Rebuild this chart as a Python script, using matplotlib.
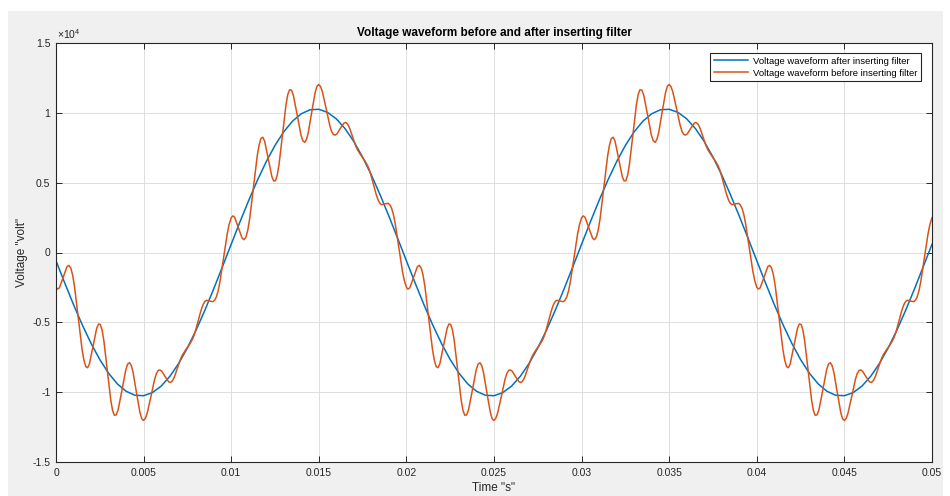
import numpy as np
import matplotlib
matplotlib.use("Agg")
from matplotlib import pyplot as plt
from matplotlib.patches import Rectangle

plt.rcParams["font.family"] = ["Liberation Sans", "DejaVu Sans"]
plt.rcParams["mathtext.fontset"] = "custom"
plt.rcParams["mathtext.rm"] = "Liberation Sans"

TITLE = "Voltage waveform before and after inserting filter"
LABEL_AFTER = "Voltage waveform after inserting filter"
LABEL_BEFORE = "Voltage waveform before inserting filter"

# filtered waveform, sampled every 0.5 ms from 0 to 0.05 s
after_v = [
    -592, -2188, -3731, -5181, -6505, -7668, -8642, -9404, -9934, -10220,
    -10253, -10034, -9569, -8867, -7947, -6832, -5548, -4128, -2607, -1020,
    592, 2188, 3731, 5181, 6505, 7668, 8642, 9404, 9934, 10220,
    10253, 10034, 9569, 8867, 7947, 6832, 5548, 4128, 2607, 1020,
    -592, -2188, -3731, -5181, -6505, -7668, -8642, -9404, -9934, -10220,
    -10253, -10034, -9569, -8867, -7947, -6832, -5548, -4128, -2607, -1020,
    592, 2188, 3731, 5181, 6505, 7668, 8642, 9404, 9934, 10220,
    10253, 10034, 9569, 8867, 7947, 6832, 5548, 4128, 2607, 1020,
    -592, -2188, -3731, -5181, -6505, -7668, -8642, -9404, -9934, -10220,
    -10253, -10034, -9569, -8867, -7947, -6832, -5548, -4128, -2607, -1020,
    592,
]
after_t = np.linspace(0, 0.05, len(after_v))

# sample times inside one 10 ms half cycle (ripple peaks and points between them)
half_t = [
    0.0, 0.0000875, 0.000195, 0.00041, 0.000625, 0.0007325, 0.00084, 0.0009475,
    0.001055, 0.00127, 0.001485, 0.0015925, 0.0017, 0.00180375, 0.0019075, 0.002115,
    0.0023225, 0.00242625, 0.00253, 0.00263, 0.00273, 0.00293, 0.00313, 0.00323,
    0.00333, 0.00343875, 0.0035475, 0.003765, 0.0039825, 0.00409125, 0.0042, 0.00429875,
    0.0043975, 0.004595, 0.0047925, 0.00489125, 0.00499, 0.00509625, 0.0052025, 0.005415,
    0.0056275, 0.00573375, 0.00584, 0.00593875, 0.0060375, 0.006235, 0.0064325, 0.00653125,
    0.00663, 0.00670375, 0.0067775, 0.006925, 0.0070725, 0.00714625, 0.00722, 0.007365,
    0.00751, 0.007655, 0.0078, 0.007875, 0.00795, 0.0081, 0.00825, 0.008325,
    0.0084, 0.00849375, 0.0085875, 0.008775, 0.0089625, 0.00905625, 0.00915, 0.00925375,
    0.0093575, 0.009565, 0.0097725, 0.00987625, 0.00998,
]
before_t = np.concatenate([np.array(half_t) + k * 0.01 for k in range(5)] + [[0.05]])

# unfiltered waveform, one row block per half cycle
before_v = [
    -2490, -2620, -2530, -1780, -1020, -920, -1100, -1600, -2420, -4670,
    -6910, -7700, -8170, -8250, -7980, -6720, -5430, -5120, -5150, -5550,
    -6300, -8470, -10600, -11310, -11650, -11630, -11260, -9860, -8410, -7990,
    -7890, -8100, -8570, -10040, -11460, -11890, -12030, -11890, -11520, -10330,
    -9090, -8660, -8440, -8410, -8500, -8900, -9260, -9310, -9210, -9050,
    -8840, -8300, -7750, -7520, -7330, -7040, -6780, -6510, -6180, -5950,
    -5670, -4970, -4270, -3970, -3720, -3510, -3420, -3480, -3520, -3410,
    -3190, -2750, -2100, -390, 1330, 1980, 2430,

    2490, 2620, 2530, 1780, 1020, 920, 1100, 1600, 2420, 4670,
    6910, 7700, 8170, 8250, 7980, 6720, 5430, 5120, 5150, 5550,
    6300, 8470, 10600, 11310, 11650, 11630, 11260, 9860, 8410, 7990,
    7890, 8100, 8570, 10040, 11460, 11890, 12030, 11890, 11520, 10330,
    9090, 8660, 8440, 8410, 8500, 8900, 9260, 9310, 9210, 9050,
    8840, 8300, 7750, 7520, 7330, 7040, 6780, 6510, 6180, 5950,
    5670, 4970, 4270, 3970, 3720, 3510, 3420, 3480, 3520, 3410,
    3190, 2750, 2100, 390, -1330, -1980, -2430,

    -2490, -2620, -2530, -1780, -1020, -920, -1100, -1600, -2420, -4670,
    -6910, -7700, -8170, -8250, -7980, -6720, -5430, -5120, -5150, -5550,
    -6300, -8470, -10600, -11310, -11650, -11630, -11260, -9860, -8410, -7990,
    -7890, -8100, -8570, -10040, -11460, -11890, -12030, -11890, -11520, -10330,
    -9090, -8660, -8440, -8410, -8500, -8900, -9260, -9310, -9210, -9050,
    -8840, -8300, -7750, -7520, -7330, -7040, -6780, -6510, -6180, -5950,
    -5670, -4970, -4270, -3970, -3720, -3510, -3420, -3480, -3520, -3410,
    -3190, -2750, -2100, -390, 1330, 1980, 2430,

    2490, 2620, 2530, 1780, 1020, 920, 1100, 1600, 2420, 4670,
    6910, 7700, 8170, 8250, 7980, 6720, 5430, 5120, 5150, 5550,
    6300, 8470, 10600, 11310, 11650, 11630, 11260, 9860, 8410, 7990,
    7890, 8100, 8570, 10040, 11460, 11890, 12030, 11890, 11520, 10330,
    9090, 8660, 8440, 8410, 8500, 8900, 9260, 9310, 9210, 9050,
    8840, 8300, 7750, 7520, 7330, 7040, 6780, 6510, 6180, 5950,
    5670, 4970, 4270, 3970, 3720, 3510, 3420, 3480, 3520, 3410,
    3190, 2750, 2100, 390, -1330, -1980, -2430,

    -2490, -2620, -2530, -1780, -1020, -920, -1100, -1600, -2420, -4670,
    -6910, -7700, -8170, -8250, -7980, -6720, -5430, -5120, -5150, -5550,
    -6300, -8470, -10600, -11310, -11650, -11630, -11260, -9860, -8410, -7990,
    -7890, -8100, -8570, -10040, -11460, -11890, -12030, -11890, -11520, -10330,
    -9090, -8660, -8440, -8410, -8500, -8900, -9260, -9310, -9210, -9050,
    -8840, -8300, -7750, -7520, -7330, -7040, -6780, -6510, -6180, -5950,
    -5670, -4970, -4270, -3970, -3720, -3510, -3420, -3480, -3520, -3410,
    -3190, -2750, -2100, -390, 1330, 1980, 2430,

    2490,
]

x_ticks = [0, 0.005, 0.01, 0.015, 0.02, 0.025, 0.03, 0.035, 0.04, 0.045, 0.05]
x_labels = ["0", "0.005", "0.01", "0.015", "0.02", "0.025", "0.03", "0.035", "0.04", "0.045", "0.05"]
y_ticks = [-1.5e4, -1e4, -0.5e4, 0, 0.5e4, 1e4, 1.5e4]
y_labels = ["-1.5", "-1", "-0.5", "0", "0.5", "1", "1.5"]

W, H = 950, 496
DARK = "#262626"

fig = plt.figure(figsize=(W / 100, H / 100), dpi=100, facecolor="white")
# grey window area of the screenshot, kept behind the axes
fig.patches.append(Rectangle((8 / W, 0), 935 / W, 485 / H, transform=fig.transFigure,
                             facecolor="#f0f0f0", edgecolor="none", zorder=-10))

ax = fig.add_axes([56 / W, 34 / H, 876 / W, 419 / H])
ax.set_zorder(1)
ax.set_facecolor("white")

ax.plot(after_t, after_v, color="#0072BD", lw=1.1, label=LABEL_AFTER)
ax.plot(before_t, before_v, color="#D95319", lw=1.1, label=LABEL_BEFORE)

ax.set_xlim(0, 0.05)
ax.set_ylim(-1.5e4, 1.5e4)
ax.set_xticks(x_ticks)
ax.set_xticklabels(x_labels)
ax.set_yticks(y_ticks)
ax.set_yticklabels(y_labels)

ax.grid(True, color="#dedede", lw=0.7)
ax.set_axisbelow(True)
ax.tick_params(direction="in", top=True, right=True, length=4, width=0.7,
               colors=DARK, labelsize=7.5, pad=4)
for s in ax.spines.values():
    s.set_color(DARK)
    s.set_linewidth(0.8)

ax.set_title(TITLE, fontsize=8.5, fontweight="bold", color="black", pad=5)
ax.set_xlabel('Time "s"', fontsize=8.5, color=DARK, labelpad=3)
ax.set_ylabel('Voltage "volt"', fontsize=8.5, color=DARK, labelpad=3)
ax.text(0.001, 1.004, r"$\times10^{4}$", transform=ax.transAxes, fontsize=7.5,
        color=DARK, ha="left", va="bottom")

leg = ax.legend(loc="upper right", bbox_to_anchor=(921 / W, 1 - 53 / H),
                bbox_transform=fig.transFigure, borderaxespad=0, fontsize=6.8,
                fancybox=False, framealpha=1, edgecolor=DARK, handlelength=3.6,
                handletextpad=0.5, borderpad=0.4, labelspacing=0.3)
leg.get_frame().set_linewidth(0.8)

fig.savefig("out.png", dpi=100, facecolor=fig.get_facecolor())
